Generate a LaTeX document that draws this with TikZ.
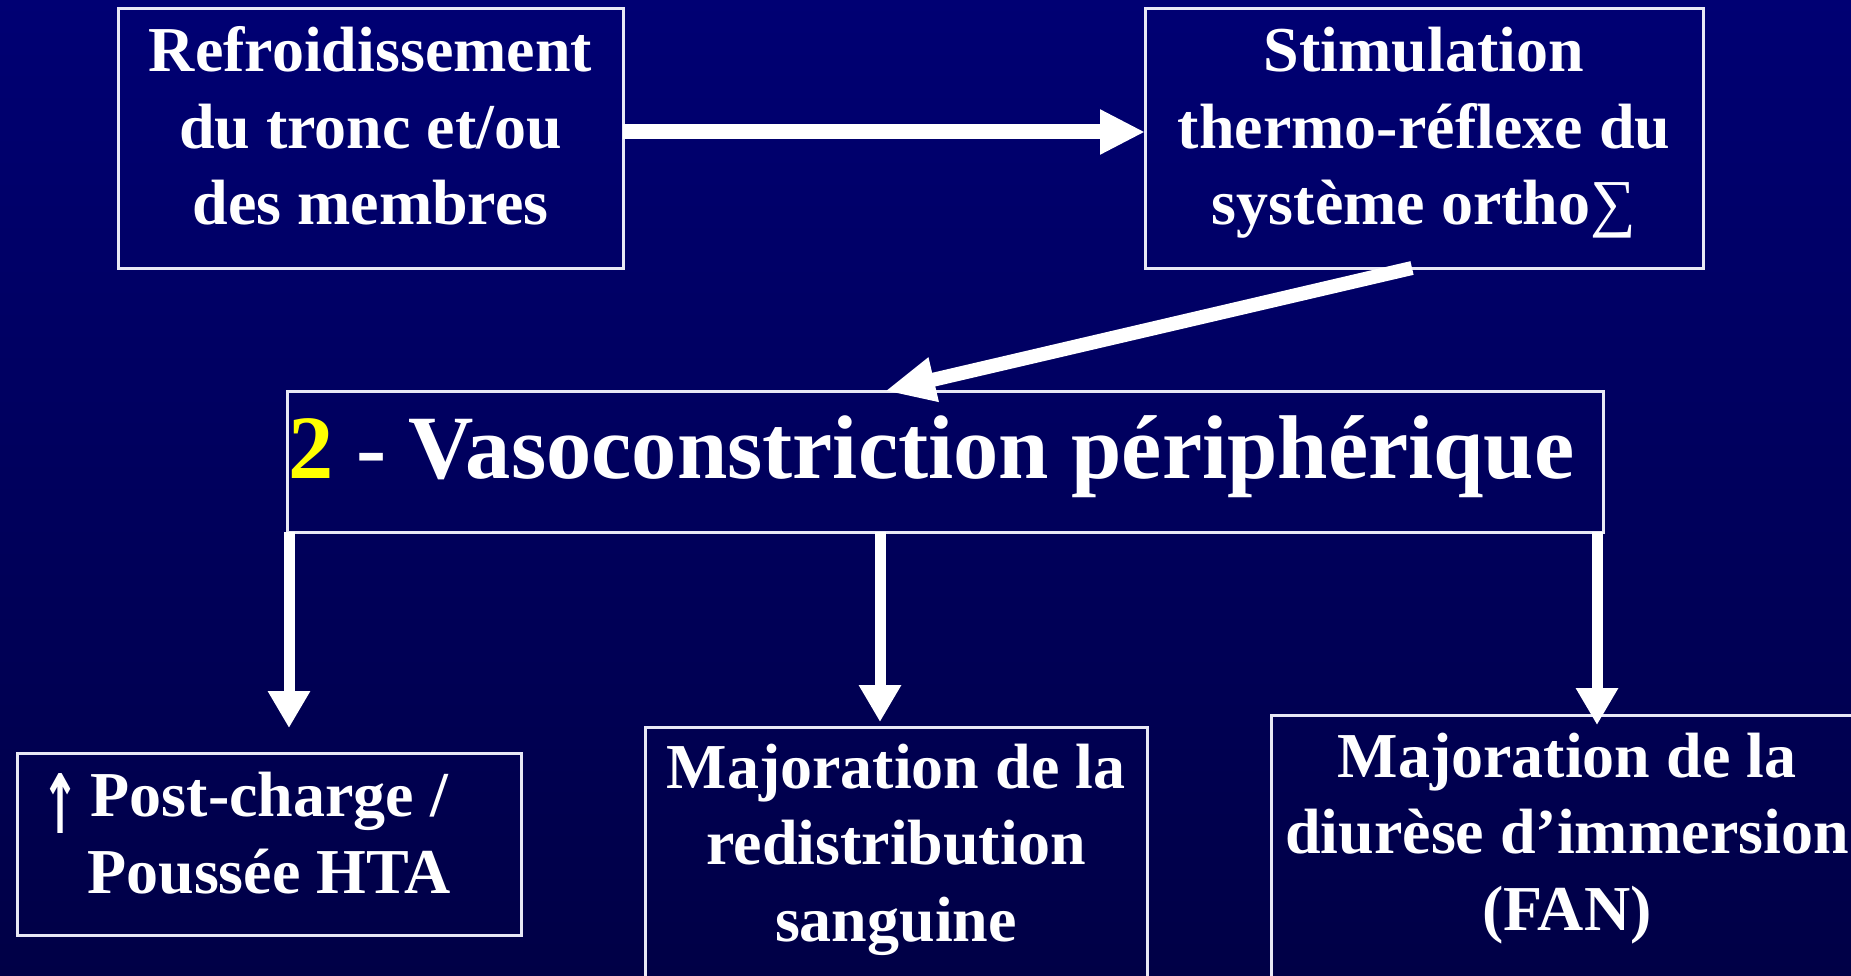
\documentclass[tikz,border=0pt]{standalone}
\usepackage{fontspec}
\usepackage{graphicx}
\setmainfont{Liberation Serif}
\newfontfamily\arrowfont{DejaVu Sans}
\usetikzlibrary{arrows.meta}
\definecolor{bgtop}{RGB}{0,0,115}
\definecolor{bgbot}{RGB}{0,0,70}
\definecolor{frame}{RGB}{232,232,245}
\definecolor{numyellow}{RGB}{255,255,0}
\newcommand{\uparr}{\raisebox{-17pt}{\resizebox{38pt}{60pt}{\arrowfont\bfseries ↑}}}
\begin{document}
\begin{tikzpicture}[x=1pt,y=-1pt,
  box/.style={draw=frame,line width=3pt,rectangle,inner sep=0pt,outer sep=0pt},
  txt/.style={text=white,font=\bfseries\fontsize{64}{76.5}\selectfont,align=center,anchor=base,inner sep=0pt},
  wide/.style={draw=white,line width=15pt,-{Triangle[length=45pt,width=42pt]}},
  slant/.style={draw=white,line width=14pt,-{Triangle[length=50pt,width=42pt]}},
  drop/.style={draw=white,line width=11pt,-{Triangle[length=37pt,width=40pt]}}
]
% background
\shade[top color=bgtop,bottom color=bgbot] (0,0) rectangle (1851,976);
\useasboundingbox (0,0) rectangle (1851,976);
\clip (0,0) rectangle (1851,976);

% frames
\node[box,minimum width=505pt,minimum height=259pt] (refr) at (370.5,138.5) {};
\node[box,minimum width=558pt,minimum height=259pt] (stim) at (1424,138.5) {};
\node[box,minimum width=1316pt,minimum height=141pt] (vaso) at (945,461.5) {};
\node[box,minimum width=504pt,minimum height=182pt] (post) at (269,844) {};
\node[box,minimum width=502pt,minimum height=273pt] (redis) at (896,863.5) {};
\node[box,minimum width=592pt,minimum height=285pt] (diur) at (1567,857.5) {};

% texts (anchored on the baseline of the last line)
\node[txt] (refrT) at (370.5,225) {Refroidissement\\du tronc et/ou\\des membres};
\node[txt] (stimT) at (1424,225) {Stimulation\\thermo-réflexe du\\système ortho{\mdseries ∑}};
\node[txt,anchor=base west,font=\bfseries\fontsize{90.5}{100}\selectfont] (vasoT) at (288,478)
  {\textcolor{numyellow}{2} - Vasoconstriction périphérique};
\node[txt] (postT) at (269,893) {\uparr\hspace{11pt}Post-charge /\hspace*{48pt}\\Poussée HTA};
\node[txt] (redisT) at (896,941) {Majoration de la\\redistribution\\sanguine};
\node[txt] (diurT) at (1567,930) {Majoration de la\\diurèse d’immersion\\(FAN)};

% connectors
\draw[wide] (refr.east |- 0,132) -- (stim.west |- 0,132);
\draw[slant] (stim.south -| 1412,0) -- (vaso.north -| 885,0);
\draw[drop,shorten >=25pt] (vaso.south -| 289,0) -- (post.north -| 289,0);
\draw[drop,shorten >=5pt] (vaso.south -| 880,0) -- (redis.north -| 880,0);
\draw[drop,shorten >=-10pt] (vaso.south -| 1597,0) -- (diur.north -| 1597,0);
\end{tikzpicture}
\end{document}
